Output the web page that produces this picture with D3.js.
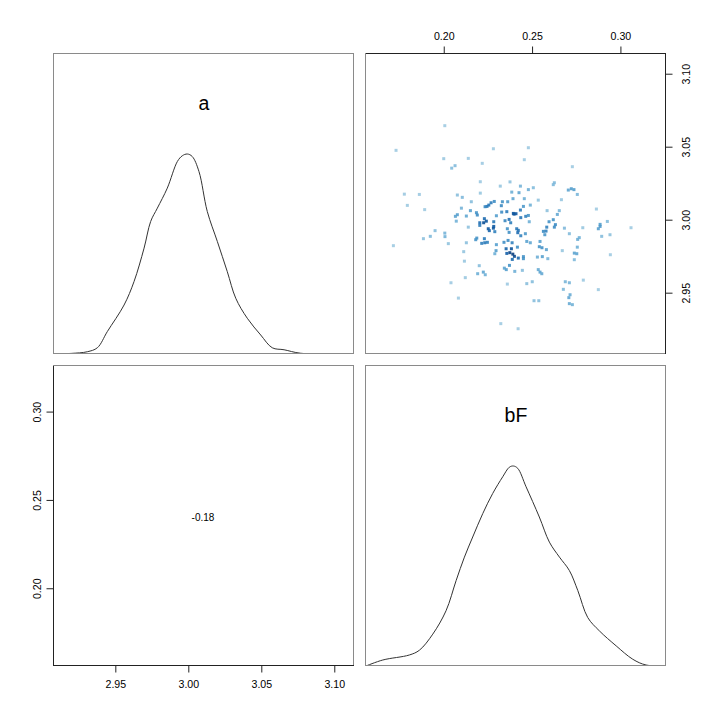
<!DOCTYPE html>
<html><head><meta charset="utf-8">
<script src="https://cdn.jsdelivr.net/npm/d3@7"></script>
<style>body{margin:0;background:#fff}svg{display:block}</style></head>
<body><svg id="c" width="720" height="720"></svg>
<script>
const varNames = ["a", "bF"];
const aTicks = [2.95, 3.00, 3.05, 3.10];
const bfTicks = [0.20, 0.25, 0.30];
const corrLabel = "-0.18";

const aDensX = [2.908,2.920,2.9308,2.9377,2.9445,2.9560,2.9628,2.9697,2.9742,2.9788,2.9856,2.9925,2.9959,2.9993,3.0027,3.0073,3.0130,3.0199,3.0267,3.0325,3.0404,3.0496,3.0575,3.0656,3.0770,3.1135];
const aDensY = [0,0.05,0.18,0.50,1.79,3.92,5.79,8.47,10.60,11.67,13.27,15.40,15.86,16.0,15.80,14.60,11.40,9.00,6.59,4.46,2.86,1.52,0.50,0.34,0.06,0];

const bfDensX = [0.156,0.1655,0.1805,0.1862,0.1938,0.2013,0.2070,0.2117,0.2164,0.2221,0.2277,0.2334,0.2371,0.2394,0.2419,0.2466,0.2541,0.2598,0.2655,0.2711,0.2759,0.2815,0.2881,0.2976,0.3070,0.3145,0.3258];
const bfDensY = [0,0.48,0.88,1.26,2.55,4.42,6.83,8.71,10.32,12.20,13.80,15.14,15.90,16.0,15.81,14.34,11.92,9.91,8.71,7.64,6.03,3.88,2.81,1.61,0.54,0.08,0];

const ptBF = [
0.2006,0.1730,0.2281,0.2000,0.2139,0.2064,0.2045,0.2218,0.2207,0.2320,0.2375,0.1777,0.1862,0.2077,0.2105,0.2207,0.1794,0.1892,0.2156,0.2100,0.2151,0.2185,0.2190,0.2077,0.2066,0.2128,0.2071,0.2234,0.2245,0.2268,0.2286,0.2255,0.2332,0.2362,0.2326,0.2357,0.2328,0.2298,0.2230,0.2241,0.2226,0.2204,0.2283,0.2347,0.2370,
0.2479,0.2456,0.2728,0.2434,0.2507,0.2626,0.2620,0.2385,0.2426,0.2479,0.2705,0.2722,0.2737,0.2756,0.2392,0.2456,0.2535,0.2666,0.2451,0.2490,0.2585,0.2654,0.2643,0.2864,0.2434,0.2394,0.2409,0.2398,0.2464,0.2479,0.2436,0.2484,0.2620,0.2596,0.2632,0.2885,0.2926,0.2379,
0.2139,0.2204,0.1951,0.2006,0.2007,0.1885,0.1924,0.1715,0.2026,0.2128,0.2187,0.2181,0.2230,0.2215,0.2232,0.2247,0.2252,0.2258,0.2281,0.2289,0.2283,0.2360,0.2370,0.2298,0.2341,0.2364,0.2353,0.2296,0.2289,0.2357,0.2374,0.2113,0.2117,0.2201,0.2224,0.2235,0.2192,0.2122,0.2041,0.2343,0.2354,0.2372,0.2360,0.2083,0.2323,
0.2413,0.2422,0.2419,0.2436,0.2462,0.2387,0.2417,0.2383,0.2470,0.2490,0.2391,0.2400,0.2422,0.2451,0.2451,0.2388,0.2564,0.2579,0.2572,0.2583,0.2626,0.2683,0.2711,0.2787,0.2875,0.2885,0.2894,0.2941,0.3060,0.2545,0.2541,0.2556,0.2581,0.2530,0.2558,0.2589,0.2671,0.2756,0.2758,0.2767,0.2739,0.2753,0.2739,0.2943,0.2402,0.2445,0.2535,0.2545,0.2555,0.2470,0.2501,0.2688,0.2711,0.2790,0.2677,0.2875,0.2715,0.2708,0.2511,0.2538,0.2711,0.2728,0.2421
];
const ptA = [
3.0644,3.0475,3.0486,3.0418,3.0420,3.0370,3.0353,3.0386,3.0260,3.0230,3.0259,3.0175,3.0173,3.0169,3.0153,3.0182,3.0098,3.0069,3.0123,3.0079,3.0062,3.0048,3.0032,3.0034,3.0023,3.0025,2.9990,3.0089,3.0091,3.0116,3.0125,3.0100,3.0123,3.0123,3.0096,3.0055,3.0052,3.0027,3.0007,2.9990,2.9979,2.9979,2.9986,2.9993,3.0002,
3.0493,3.0411,3.0363,3.0230,3.0219,3.0253,3.0240,3.0189,3.0185,3.0206,3.0203,3.0212,3.0206,3.0173,3.0144,3.0144,3.0134,3.0137,3.0091,3.0100,3.0062,3.0062,3.0036,3.0073,3.0066,3.0043,3.0041,3.0038,3.0023,3.0029,3.0014,2.9986,3.0000,2.9986,2.9966,2.9968,2.9988,2.9979,
2.9949,2.9961,2.9925,2.9908,2.9884,2.9870,2.9886,2.9822,2.9836,2.9842,2.9874,2.9863,2.9870,2.9838,2.9842,2.9845,2.9938,2.9925,2.9942,2.9918,2.9954,2.9938,2.9913,2.9829,2.9845,2.9858,2.9801,2.9788,2.9767,2.9769,2.9774,2.9781,2.9716,2.9685,2.9641,2.9623,2.9630,2.9603,2.9568,2.9668,2.9658,2.9687,2.9559,2.9463,2.9288,
2.9938,2.9927,2.9911,2.9890,2.9904,2.9842,2.9812,2.9801,2.9851,2.9842,2.9764,2.9749,2.9737,2.9747,2.9733,2.9728,2.9920,2.9922,2.9897,2.9949,2.9949,2.9942,2.9904,2.9945,2.9938,2.9954,2.9886,2.9897,2.9945,2.9851,2.9815,2.9808,2.9795,2.9744,2.9747,2.9733,2.9788,2.9812,2.9865,2.9877,2.9771,2.9767,2.9726,2.9760,2.9646,2.9653,2.9658,2.9641,2.9630,2.9562,2.9575,2.9575,2.9568,2.9586,2.9523,2.9521,2.9486,2.9466,2.9445,2.9445,2.9425,2.9418,2.9253
];
const bluePalette = ["#9ECAE1","#6BAED6","#4292C6","#2171B5","#08519C","#08306B"];

const svg = d3.select("#c");
const font = "'Liberation Sans', Arial, sans-serif";
const S = 300;
const col = [54, 366], row = [54, 366];

const xA = d3.scaleLinear().domain([2.908, 3.1135]).range([col[0], col[0] + S]);
const xBF = d3.scaleLinear().domain([0.156, 0.3258]).range([col[1], col[1] + S]);
const yA = d3.scaleLinear().domain([2.908, 3.1135]).range([row[0] + S, row[0]]);
const yBF = d3.scaleLinear().domain([0.156, 0.3258]).range([row[1] + S, row[1]]);

const defs = svg.append("defs");
[[0,0],[0,1],[1,0],[1,1]].forEach(([r,c]) => {
  defs.append("clipPath").attr("id", `clip${r}${c}`).append("rect")
    .attr("x", col[c]).attr("y", row[r]).attr("width", S).attr("height", S);
});

function densPanel(r, c, xs, ds, xScale, label) {
  const yD = d3.scaleLinear().domain([0, d3.max(ds) * 1.5]).range([row[r] + S, row[r]]);
  const pts = xs.map((x, i) => [x, ds[i]]);
  svg.append("path").datum(pts)
    .attr("clip-path", `url(#clip${r}${c})`)
    .attr("d", d3.line().x(d => xScale(d[0])).y(d => yD(d[1])).curve(d3.curveCatmullRom.alpha(0.5)))
    .attr("fill", "none").attr("stroke", "#333").attr("stroke-width", 1);
  svg.append("text").attr("x", col[c] + S / 2).attr("y", row[r] + 55.5)
    .attr("text-anchor", "middle").attr("font-family", font).attr("font-size", 19.5)
    .attr("fill", "#000").text(label);
}
densPanel(0, 0, aDensX, aDensY, xA, varNames[0]);
densPanel(1, 1, bfDensX, bfDensY, xBF, varNames[1]);

// scatter with density colours (densCols-like)
const q = (arr, p) => d3.quantile(arr.slice().sort(d3.ascending), p);
const hx = (q(ptBF, 0.95) - q(ptBF, 0.05)) / 25;
const hy = (q(ptA, 0.95) - q(ptA, 0.05)) / 25;
const dens = ptBF.map((bx, i) => {
  let s = 0;
  for (let j = 0; j < ptBF.length; j++) {
    const dx = (ptBF[j] - bx) / hx, dy = (ptA[j] - ptA[i]) / hy;
    s += Math.exp(-0.5 * (dx * dx + dy * dy));
  }
  return s;
});
const [dMin, dMax] = d3.extent(dens);
const colScale = d3.scalePow().exponent(1.4).domain([dMin, dMax]).range([0, 0.92]).clamp(true);
const ramp = d3.interpolateRgbBasis(bluePalette);
svg.append("g").attr("clip-path", "url(#clip01)")
  .selectAll("rect").data(ptBF.map((b, i) => i)).join("rect")
  .attr("x", i => xBF(ptBF[i]) - 1.5).attr("y", i => yA(ptA[i]) - 1.5)
  .attr("width", 3).attr("height", 3)
  .attr("fill", i => ramp(colScale(dens[i])))
  .attr("opacity", 0.9);

svg.append("text").attr("x", col[0] + S / 2 - 1).attr("y", row[1] + S / 2 + 4.5)
  .attr("text-anchor", "middle").attr("font-family", font).attr("font-size", 10)
  .attr("fill", "#000").text(corrLabel);

[[0,0],[0,1],[1,0],[1,1]].forEach(([r,c]) => {
  svg.append("rect").attr("x", col[c] - 0.5).attr("y", row[r] - 0.5)
    .attr("width", S).attr("height", S)
    .attr("fill", "none").attr("stroke", "#8a8a8a").attr("stroke-width", 1);
});

function styleAxis(g) {
  g.selectAll("path").attr("stroke", "#222");
  g.selectAll("line").attr("stroke", "#222");
  g.selectAll("text").attr("font-family", font).attr("font-size", 10.6).attr("fill", "#000");
}

const gTop = svg.append("g").attr("transform", `translate(0,${row[0] - 0.5})`)
  .call(d3.axisTop(xBF).tickValues(bfTicks).tickFormat(d3.format(".2f")).tickSize(7).tickPadding(7).tickSizeOuter(0));
styleAxis(gTop);

const gRight = svg.append("g").attr("transform", `translate(${col[1] + S - 0.5},0)`)
  .call(d3.axisRight(yA).tickValues(aTicks).tickFormat(d3.format(".2f")).tickSize(7).tickSizeOuter(0));
styleAxis(gRight);
gRight.selectAll(".tick text").attr("x", null).attr("dy", null).attr("text-anchor", "middle")
  .attr("transform", "translate(24,0) rotate(-90)");

const gBot = svg.append("g").attr("transform", `translate(0,${row[1] + S - 0.5})`)
  .call(d3.axisBottom(xA).tickValues(aTicks).tickFormat(d3.format(".2f")).tickSize(7).tickPadding(7).tickSizeOuter(0));
styleAxis(gBot);
gBot.selectAll(".tick text").attr("dy", null).attr("y", 22);

const gLeft = svg.append("g").attr("transform", `translate(${col[0] - 0.5},0)`)
  .call(d3.axisLeft(yBF).tickValues(bfTicks).tickFormat(d3.format(".2f")).tickSize(7).tickSizeOuter(0));
styleAxis(gLeft);
gLeft.selectAll(".tick text").attr("x", null).attr("dy", null).attr("text-anchor", "middle")
  .attr("transform", "translate(-13,0) rotate(-90)");

gTop.select(".domain").attr("d", `M${col[1]},0H${col[1] + S}`);
gRight.select(".domain").attr("d", `M0,${row[0]}V${row[0] + S}`);
gBot.select(".domain").attr("d", `M${col[0]},0H${col[0] + S}`);
gLeft.select(".domain").attr("d", `M0,${row[1]}V${row[1] + S}`);
</script></body></html>
